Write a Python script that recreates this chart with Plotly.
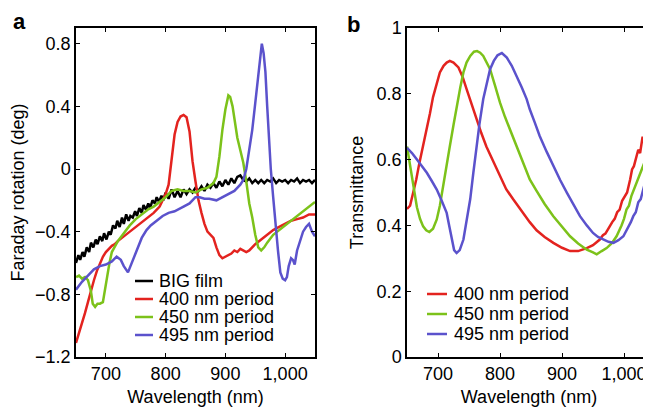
import plotly.graph_objects as go

# ---------------- data ----------------
wl_big = [650, 654, 657, 661, 664, 668, 672, 675, 679, 683, 686, 690, 694, 697, 701, 705, 708, 712, 716, 719,
          723, 727, 730, 734, 738, 741, 745, 749, 752, 756, 760, 763, 767, 771, 774, 778, 782, 785, 789, 793,
          796, 800, 805, 810, 815, 820, 825, 830, 835, 840, 845, 850, 855, 860, 865, 870, 875, 880, 885, 890,
          895, 900, 905, 910, 915, 920, 925, 930, 935, 940, 945, 950, 955, 960, 965, 970, 975, 980, 985, 990,
          995, 1000, 1005, 1010, 1015, 1020, 1025, 1030, 1035, 1040, 1045, 1050]
fr_big = [-0.60, -0.55, -0.58, -0.53, -0.56, -0.50, -0.53, -0.47, -0.50, -0.45, -0.48, -0.43, -0.46, -0.41, -0.45, -0.40, -0.42, -0.36, -0.38, -0.33,
          -0.37, -0.31, -0.35, -0.29, -0.33, -0.30, -0.31, -0.27, -0.30, -0.25, -0.28, -0.23, -0.26, -0.22, -0.25, -0.20, -0.22, -0.18, -0.21, -0.17,
          -0.20, -0.15, -0.19, -0.13, -0.18, -0.14, -0.18, -0.13, -0.16, -0.13, -0.15, -0.12, -0.14, -0.11, -0.14, -0.10, -0.12, -0.09, -0.12, -0.08,
          -0.11, -0.07, -0.10, -0.06, -0.09, -0.05, -0.04, -0.07, -0.08, -0.06, -0.09, -0.07, -0.09, -0.07, -0.09, -0.07, -0.08, -0.06, -0.09, -0.07,
          -0.08, -0.07, -0.09, -0.07, -0.08, -0.06, -0.09, -0.07, -0.08, -0.07, -0.09, -0.07]

wl_400 = [650, 655, 660, 665, 670, 675, 680, 685, 690, 695, 700, 705, 710, 715, 720, 730, 740, 750, 760, 770,
          780, 790, 795, 800, 805, 810, 815, 820, 825, 830, 835, 840, 845, 850, 855, 860, 865, 870, 875, 880,
          885, 890, 895, 900, 905, 910, 915, 920, 925, 930, 935, 940, 945, 950, 960, 970, 980, 990, 1000, 1010,
          1020, 1030, 1040, 1050]
fr_400 = [-1.11, -1.05, -0.99, -0.92, -0.85, -0.77, -0.71, -0.65, -0.60, -0.56, -0.53, -0.51, -0.49, -0.48, -0.46, -0.43, -0.40, -0.37, -0.34, -0.31,
          -0.28, -0.24, -0.20, -0.16, -0.10, 0.08, 0.22, 0.30, 0.335, 0.345, 0.33, 0.24, 0.05, -0.08, -0.20, -0.28, -0.35, -0.40, -0.42, -0.44,
          -0.50, -0.55, -0.57, -0.56, -0.55, -0.54, -0.52, -0.53, -0.51, -0.52, -0.53, -0.52, -0.50, -0.48, -0.45, -0.42, -0.39, -0.37, -0.35, -0.33,
          -0.32, -0.31, -0.29, -0.29]

wl_450 = [650, 655, 660, 665, 670, 675, 678, 682, 686, 690, 695, 698, 702, 706, 710, 715, 720, 730, 740, 750,
          760, 770, 780, 790, 800, 810, 820, 830, 840, 850, 860, 870, 880, 885, 890, 895, 900, 905, 908, 912,
          916, 920, 925, 930, 935, 940, 945, 950, 955, 960, 965, 970, 980, 990, 1000, 1010, 1020, 1030, 1040, 1050]
fr_450 = [-0.69, -0.68, -0.70, -0.69, -0.71, -0.78, -0.86, -0.88, -0.86, -0.86, -0.85, -0.78, -0.68, -0.60, -0.53, -0.49, -0.46, -0.41, -0.36, -0.32,
          -0.29, -0.26, -0.24, -0.21, -0.18, -0.14, -0.13, -0.14, -0.14, -0.15, -0.13, -0.12, -0.09, -0.05, 0.08, 0.25, 0.38, 0.47, 0.46, 0.40,
          0.30, 0.20, 0.12, 0.04, -0.08, -0.22, -0.31, -0.42, -0.50, -0.52, -0.50, -0.47, -0.42, -0.39, -0.36, -0.33, -0.30, -0.27, -0.24, -0.21]

wl_495 = [650, 660, 670, 680, 690, 700, 710, 718, 725, 730, 737, 742, 750, 760, 768, 775, 785, 795, 805, 815,
          830, 840, 850, 857, 865, 873, 885, 895, 905, 915, 925, 930, 935, 940, 945, 950, 955, 958, 961, 964,
          967, 970, 973, 976, 980, 984, 988, 992, 996, 1000, 1003, 1006, 1010, 1013, 1016, 1020, 1025, 1030, 1035, 1040,
          1045, 1050]
fr_495 = [-0.77, -0.72, -0.68, -0.64, -0.62, -0.61, -0.59, -0.56, -0.58, -0.62, -0.66, -0.61, -0.53, -0.44, -0.39, -0.36, -0.33, -0.30, -0.28, -0.27,
          -0.24, -0.22, -0.18, -0.18, -0.19, -0.19, -0.20, -0.18, -0.16, -0.14, -0.10, -0.07, 0.00, 0.12, 0.25, 0.42, 0.60, 0.72, 0.80, 0.74,
          0.62, 0.40, 0.20, 0.00, -0.18, -0.36, -0.52, -0.66, -0.70, -0.71, -0.69, -0.62, -0.57, -0.58, -0.61, -0.52, -0.46, -0.40, -0.37, -0.35,
          -0.40, -0.43]

wl_t400 = [650, 655, 660, 665, 670, 676, 681, 687, 692, 698, 703, 709, 714, 719, 725, 733, 740, 746, 754, 762,
           770, 778, 789, 800, 810, 821, 832, 848, 859, 872, 886, 900, 913, 926, 940, 950, 961, 966, 970, 974,
           977, 981, 985, 989, 993, 997, 1001, 1005, 1010, 1013, 1016, 1020, 1023, 1026, 1030, 1032, 1034, 1037, 1040, 1044]
tr_400 = [0.45, 0.46, 0.50, 0.54, 0.59, 0.64, 0.69, 0.74, 0.79, 0.83, 0.865, 0.885, 0.895, 0.90, 0.895, 0.88, 0.85, 0.815, 0.77, 0.72,
          0.68, 0.64, 0.595, 0.55, 0.51, 0.48, 0.45, 0.41, 0.385, 0.365, 0.347, 0.332, 0.322, 0.322, 0.331, 0.34, 0.357, 0.37, 0.375, 0.39,
          0.397, 0.41, 0.42, 0.44, 0.448, 0.475, 0.49, 0.50, 0.54, 0.57, 0.58, 0.61, 0.63, 0.62, 0.67, 0.65, 0.70, 0.68, 0.71, 0.72]

wl_t450 = [650, 654, 658, 662, 666, 671, 676, 681, 686, 692, 698, 703, 708, 714, 719, 725, 730, 736, 741, 746,
           752, 758, 763, 768, 773, 779, 784, 792, 800, 808, 816, 824, 832, 840, 848, 859, 872, 886, 900, 913,
           926, 940, 950, 956, 964, 972, 980, 988, 996, 1000, 1004, 1008, 1012, 1016, 1020, 1024, 1028, 1032, 1036, 1040, 1044]
tr_450 = [0.64, 0.59, 0.54, 0.49, 0.455, 0.42, 0.397, 0.385, 0.38, 0.39, 0.418, 0.46, 0.52, 0.58, 0.64, 0.705, 0.763, 0.82, 0.865, 0.895,
          0.915, 0.928, 0.93, 0.925, 0.915, 0.895, 0.875, 0.825, 0.773, 0.73, 0.692, 0.65, 0.615, 0.575, 0.54, 0.505, 0.465, 0.428, 0.395, 0.367,
          0.345, 0.326, 0.318, 0.312, 0.322, 0.331, 0.345, 0.367, 0.40, 0.42, 0.448, 0.46, 0.49, 0.51, 0.53, 0.545, 0.57, 0.59, 0.61, 0.625, 0.64]

wl_t495 = [650, 658, 666, 674, 682, 690, 698, 706, 714, 718, 722, 726, 730, 735, 741, 746, 752, 757, 762, 767,
           773, 778, 784, 790, 796, 803, 811, 819, 827, 835, 843, 848, 856, 864, 875, 886, 897, 908, 918, 929,
           940, 950, 958, 966, 975, 983, 991, 999, 1003, 1007, 1011, 1015, 1019, 1023, 1027, 1031, 1034, 1037, 1040, 1044]
tr_495 = [0.636, 0.62, 0.60, 0.58, 0.56, 0.535, 0.509, 0.475, 0.438, 0.40, 0.357, 0.325, 0.316, 0.325, 0.357, 0.41, 0.48, 0.56, 0.64, 0.71,
          0.784, 0.83, 0.875, 0.90, 0.917, 0.924, 0.91, 0.885, 0.855, 0.82, 0.784, 0.753, 0.713, 0.672, 0.625, 0.58, 0.538, 0.499, 0.463, 0.428,
          0.40, 0.377, 0.365, 0.357, 0.35, 0.347, 0.355, 0.367, 0.38, 0.395, 0.41, 0.428, 0.44, 0.47, 0.48, 0.509, 0.53, 0.54, 0.55, 0.57]

left_names = ["BIG film", "400 nm period", "450 nm period", "495 nm period"]
right_names = ["400 nm period", "450 nm period", "495 nm period"]
colors = {"BIG film": "#000000", "400 nm period": "#e3231f",
          "450 nm period": "#7cc21a", "495 nm period": "#5b52cc"}

x_ticks = [700, 800, 900, 1000]
x_tick_text = ["700", "800", "900", "1,000"]
fr_ticks = [-1.2, -0.8, -0.4, 0, 0.4, 0.8]
fr_tick_text = ["\u22121.2", "\u22120.8", "\u22120.4", "0", "0.4", "0.8"]
tr_ticks = [0, 0.2, 0.4, 0.6, 0.8, 1]
tr_tick_text = ["0", "0.2", "0.4", "0.6", "0.8", "1"]

# ---------------- figure ----------------
# The page body has an 8px margin, so the figure starts at (8, 8) in the window.
OFF = 8
WIN_W, WIN_H = 651, 407
W, H = WIN_W - OFF, WIN_H - OFF
PLOT_TOP, PLOT_BOTTOM = 28, 357          # window pixels
MT = PLOT_TOP - OFF
MB = WIN_H - PLOT_BOTTOM
FONT = "Liberation Sans, Arial, Helvetica, sans-serif"


def px(x):
    """window x pixel -> paper x"""
    return (x - OFF) / W


def py(y):
    """window y pixel -> paper y"""
    return (PLOT_BOTTOM - y) / (PLOT_BOTTOM - PLOT_TOP)


fig = go.Figure()
left_data = {"BIG film": (wl_big, fr_big), "400 nm period": (wl_400, fr_400),
             "450 nm period": (wl_450, fr_450), "495 nm period": (wl_495, fr_495)}
for name in left_names:
    xs, ys = left_data[name]
    fig.add_trace(go.Scatter(x=xs, y=ys, mode="lines", name=name, showlegend=False,
                             line=dict(color=colors[name], width=2.5), xaxis="x", yaxis="y"))
right_data = {"400 nm period": (wl_t400, tr_400), "450 nm period": (wl_t450, tr_450),
              "495 nm period": (wl_t495, tr_495)}
for name in right_names:
    xs, ys = right_data[name]
    fig.add_trace(go.Scatter(x=xs, y=ys, mode="lines", name=name, showlegend=False,
                             line=dict(color=colors[name], width=2.5), xaxis="x2", yaxis="y2"))

axis_common = dict(showgrid=False, zeroline=False, showline=True, linecolor="black", linewidth=1.5,
                   ticks="inside", ticklen=4, tickwidth=1.2, tickcolor="black", automargin=False,
                   tickfont=dict(family=FONT, size=18, color="black"))
title_font = dict(family=FONT, size=18, color="black")

fig.update_layout(
    template="none",
    width=W, height=H,
    margin=dict(l=0, r=0, t=MT, b=MB, pad=0),
    paper_bgcolor="white", plot_bgcolor="white",
    font=dict(family=FONT, size=18, color="black"),
    showlegend=False,
    xaxis=dict(domain=[px(76), px(315)], range=[650, 1050], tickvals=x_ticks, ticktext=x_tick_text,
               mirror="ticks", anchor="y",
               title=dict(text="Wavelength (nm)", font=title_font, standoff=8), **axis_common),
    yaxis=dict(domain=[0, 1], range=[-1.2, 0.9], tickvals=fr_ticks, ticktext=fr_tick_text,
               mirror="ticks", anchor="x",
               title=dict(text="Faraday rotation (deg)", font=title_font, standoff=6), **axis_common),
    xaxis2=dict(domain=[px(407), 1.0], range=[650, 650 + (WIN_W - 407) / 0.62], tickvals=x_ticks,
                ticktext=x_tick_text, mirror="ticks", anchor="y2",
                title=dict(text="Wavelength (nm)", font=title_font, standoff=8), **axis_common),
    yaxis2=dict(domain=[0, 1], range=[0, 1], tickvals=tr_ticks, ticktext=tr_tick_text, anchor="x2",
                title=dict(text="Transmittance", font=title_font, standoff=8), **axis_common),
    yaxis3=dict(overlaying="y2", anchor="x2", side="right", range=[0, 1], tickvals=tr_ticks,
                showticklabels=False, showline=False, showgrid=False, zeroline=False, automargin=False,
                ticks="inside", ticklen=2, tickwidth=1.2, tickcolor="black"),
)

# panel letters
fig.add_annotation(text="<b>a</b>", x=px(11), y=py(21), xref="paper", yref="paper",
                   xanchor="left", yanchor="middle", showarrow=False,
                   font=dict(family=FONT, size=22, color="black"))
fig.add_annotation(text="<b>b</b>", x=px(345), y=py(24), xref="paper", yref="paper",
                   xanchor="left", yanchor="middle", showarrow=False,
                   font=dict(family=FONT, size=22, color="black"))


# legends (key boxes)
def add_key(names, x_line0, x_line1, x_text, y0, dy):
    for i, name in enumerate(names):
        yy = py(y0 + i * dy)
        fig.add_shape(type="line", xref="paper", yref="paper", x0=px(x_line0), x1=px(x_line1),
                      y0=yy, y1=yy, line=dict(color=colors[name], width=2.5))
        fig.add_annotation(text=name, x=px(x_text), y=yy, xref="paper", yref="paper",
                           xanchor="left", yanchor="middle", showarrow=False,
                           font=dict(family=FONT, size=18, color="black"))


add_key(left_names, 135, 153, 157, 281, 18)
add_key(right_names, 427, 447, 452, 294, 20)

fig.write_html("out.html")
